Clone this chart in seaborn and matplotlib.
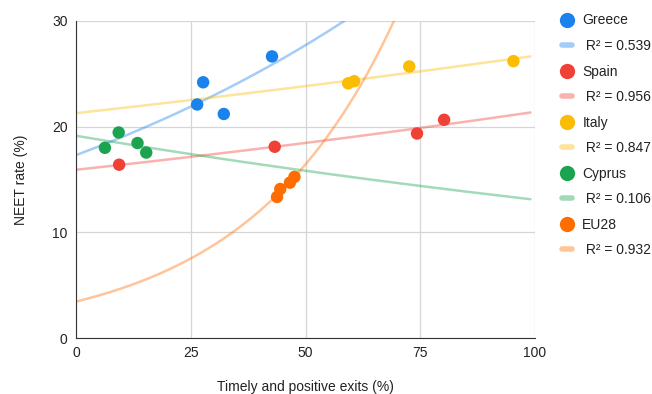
"""NEET rate vs timely and positive exits, with exponential trendlines"""

import numpy as np
import pandas as pd
import seaborn as sns
import matplotlib.pyplot as plt
from matplotlib.lines import Line2D

countries = ["Greece", "Spain", "Italy", "Cyprus", "EU28"]
r2_labels = ["0.539", "0.956", "0.847", "0.106", "0.932"]
colors = ["#1a82ec", "#f04136", "#fbbc04", "#1ba34f", "#ff6d01"]

greece_x = [26.4, 27.7, 32.2, 42.7]
greece_y = [22.1, 24.2, 21.2, 26.65]
spain_x = [9.4, 43.3, 74.3, 80.2]
spain_y = [16.4, 18.1, 19.35, 20.65]
italy_x = [59.3, 60.6, 72.6, 95.3]
italy_y = [24.1, 24.3, 25.7, 26.2]
cyprus_x = [6.3, 9.3, 13.4, 15.3]
cyprus_y = [18.0, 19.45, 18.45, 17.55]
eu28_x = [43.8, 44.5, 46.6, 47.6]
eu28_y = [13.35, 14.1, 14.7, 15.25]

xs = [greece_x, spain_x, italy_x, cyprus_x, eu28_x]
ys = [greece_y, spain_y, italy_y, cyprus_y, eu28_y]

rows = []
for c, x, y in zip(countries, xs, ys):
    for a, b in zip(x, y):
        rows.append({"country": c, "exits": a, "neet": b})
df = pd.DataFrame(rows)

sns.set_style("white")
plt.rcParams["font.family"] = ["Liberation Sans", "DejaVu Sans"]

fig = plt.figure(figsize=(6.52, 3.94), dpi=100)
ax = fig.add_axes([76 / 652, 1 - 338 / 394, 459 / 652, 317 / 394])

# exponential trendlines fitted on the points
grid = np.linspace(0, 99, 200)
for c, col in zip(countries, colors):
    d = df[df["country"] == c]
    b, a = np.polyfit(d["exits"], np.log(d["neet"]), 1)
    sns.lineplot(x=grid, y=np.exp(a + b * grid), color=col, alpha=0.4,
                 linewidth=1.8, ax=ax, zorder=2)

sns.scatterplot(data=df, x="exits", y="neet", hue="country", palette=colors,
                s=80, edgecolor="none", legend=False, ax=ax, zorder=3)

ax.set_xlim(0, 100)
ax.set_ylim(0, 30)
ax.set_xticks([0, 25, 50, 75, 100])
ax.set_yticks([0, 10, 20, 30])
ax.grid(True, color="#d6d6d6", linewidth=0.9)
ax.set_axisbelow(True)
for s in ["top", "right"]:
    ax.spines[s].set_visible(False)
ax.spines["left"].set_color("#333333")
ax.spines["bottom"].set_color("#333333")
ax.tick_params(length=0, labelsize=10, labelcolor="#222222", pad=6)
ax.set_xlabel("Timely and positive exits (%)", fontsize=10, color="#222222", labelpad=14)
ax.set_ylabel("NEET rate (%)", fontsize=10, color="#222222", labelpad=17)

handles, labels = [], []
for c, r, col in zip(countries, r2_labels, colors):
    handles.append(Line2D([], [], marker="o", linestyle="none", markersize=11,
                          markerfacecolor=col, markeredgecolor="none"))
    labels.append(c)
    handles.append(Line2D([], [], color=col, alpha=0.4, linewidth=4))
    labels.append(" R² = " + r)
fig.legend(handles, labels, loc="upper left", bbox_to_anchor=(549 / 652, 1 - 1 / 394),
           frameon=False, fontsize=10, handlelength=0.75, handletextpad=0.75,
           labelspacing=0.83, labelcolor="#222222")

fig.savefig("out.png", dpi=100)
